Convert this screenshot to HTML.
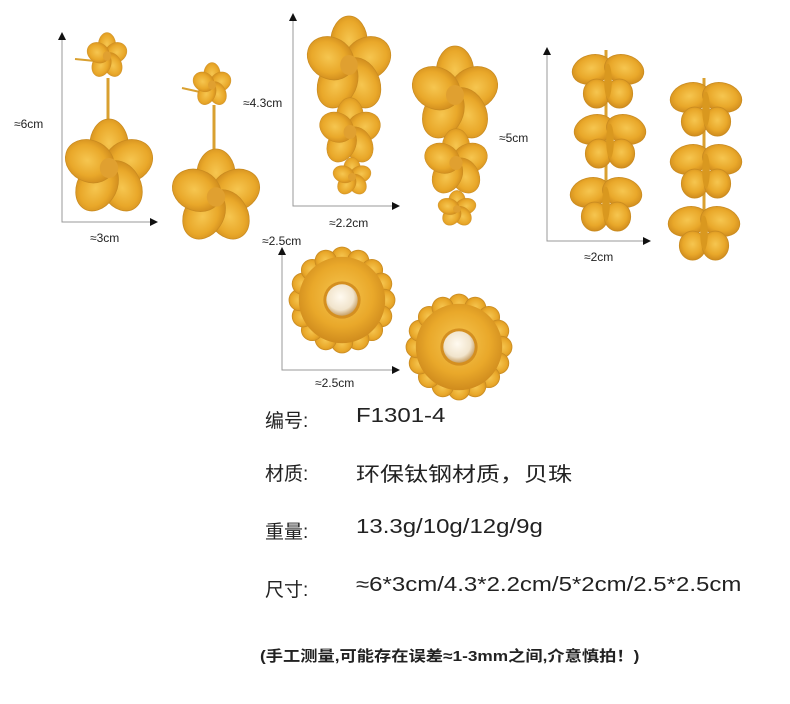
<!DOCTYPE html>
<html><head><meta charset="utf-8"><style>
html,body{margin:0;padding:0;background:#fff;}
body{width:790px;height:704px;position:relative;overflow:hidden;font-family:"Liberation Sans","Noto Sans CJK SC",sans-serif;color:#222;}
.t{position:absolute;white-space:nowrap;}
.v{font-size:20px;transform:scaleX(1.2);transform-origin:0 0;}
.l{font-size:19px;}
</style></head><body>
<svg width="790" height="704" style="position:absolute;left:0;top:0">
<defs>
<radialGradient id="g" cx="50%" cy="45%" r="60%">
<stop offset="0" stop-color="#f6c650"/><stop offset="0.6" stop-color="#e9a82a"/><stop offset="1" stop-color="#c9841a"/>
</radialGradient>
<radialGradient id="pearl" cx="45%" cy="40%" r="60%">
<stop offset="0" stop-color="#fffaf0"/><stop offset="0.7" stop-color="#f1e4cc"/><stop offset="1" stop-color="#c9a36a"/>
</radialGradient>
<symbol id="f5" viewBox="-50 -50 100 100" preserveAspectRatio="none">
<g fill="url(#g)" stroke="#c98b20" stroke-width="0.8">
<ellipse cx="0" cy="-22" rx="21" ry="27"/>
<ellipse cx="0" cy="-22" rx="21" ry="27" transform="rotate(72)"/>
<ellipse cx="0" cy="-22" rx="21" ry="27" transform="rotate(144)"/>
<ellipse cx="0" cy="-22" rx="21" ry="27" transform="rotate(216)"/>
<ellipse cx="0" cy="-22" rx="21" ry="27" transform="rotate(288)"/>
</g>
<circle cx="0" cy="0" r="10" fill="#e0a030"/>
</symbol>
<symbol id="bf" viewBox="-40 -30 80 60" preserveAspectRatio="none">
<g fill="url(#g)" stroke="#c98b20" stroke-width="0.8">
<ellipse cx="-17" cy="-12" rx="21" ry="15" transform="rotate(-15 -17 -12)"/>
<ellipse cx="17" cy="-12" rx="21" ry="15" transform="rotate(15 17 -12)"/>
<ellipse cx="-12" cy="13" rx="14" ry="15"/>
<ellipse cx="12" cy="13" rx="14" ry="15"/>
</g>
<ellipse cx="0" cy="0" rx="4" ry="18" fill="#d9981f"/>
</symbol>
<symbol id="daisy" viewBox="-55 -55 110 110">
<g fill="url(#g)" stroke="#c98b20" stroke-width="0.8">
<circle cx="0" cy="-43" r="11"/><circle cx="0" cy="-43" r="11" transform="rotate(22.5)"/>
<circle cx="0" cy="-43" r="11" transform="rotate(45)"/><circle cx="0" cy="-43" r="11" transform="rotate(67.5)"/>
<circle cx="0" cy="-43" r="11" transform="rotate(90)"/><circle cx="0" cy="-43" r="11" transform="rotate(112.5)"/>
<circle cx="0" cy="-43" r="11" transform="rotate(135)"/><circle cx="0" cy="-43" r="11" transform="rotate(157.5)"/>
<circle cx="0" cy="-43" r="11" transform="rotate(180)"/><circle cx="0" cy="-43" r="11" transform="rotate(202.5)"/>
<circle cx="0" cy="-43" r="11" transform="rotate(225)"/><circle cx="0" cy="-43" r="11" transform="rotate(247.5)"/>
<circle cx="0" cy="-43" r="11" transform="rotate(270)"/><circle cx="0" cy="-43" r="11" transform="rotate(292.5)"/>
<circle cx="0" cy="-43" r="11" transform="rotate(315)"/><circle cx="0" cy="-43" r="11" transform="rotate(337.5)"/>
<circle cx="0" cy="0" r="44" stroke="none"/>
</g>
<circle cx="0" cy="0" r="19" fill="#d48f20"/>
<circle cx="0" cy="0" r="16" fill="url(#pearl)"/>
</symbol>
</defs>
<g stroke="#999" stroke-width="1" fill="none">
<path d="M62 37V222H150"/><path d="M293 18V206H392"/><path d="M547 52V241H643"/><path d="M282 252V370H392"/>
</g>
<g fill="#111">
<path d="M58 40L62 32L66 40Z"/><path d="M150 218L158 222L150 226Z"/>
<path d="M289 21L293 13L297 21Z"/><path d="M392 202L400 206L392 210Z"/>
<path d="M543 55L547 47L551 55Z"/><path d="M643 237L651 241L643 245Z"/>
<path d="M278 255L282 247L286 255Z"/><path d="M392 366L400 370L392 374Z"/>
</g>
<line x1="75" y1="59" x2="95" y2="61" stroke="#d9a030" stroke-width="2"/>
<line x1="182" y1="88" x2="200" y2="92" stroke="#d9a030" stroke-width="2"/>
<use href="#f5" x="86" y="32" width="42" height="48"/>
<line x1="108" y1="78" x2="108" y2="125" stroke="#d9a030" stroke-width="3"/>
<use href="#f5" x="63" y="118" width="92" height="100"/>
<use href="#f5" x="192" y="62" width="40" height="46"/>
<line x1="214" y1="105" x2="214" y2="155" stroke="#d9a030" stroke-width="3"/>
<use href="#f5" x="170" y="148" width="92" height="98"/>
<use href="#f5" x="305" y="15" width="88" height="100"/>
<use href="#f5" x="318" y="97" width="64" height="70"/>
<use href="#f5" x="332" y="157" width="40" height="40"/>
<use href="#f5" x="410" y="45" width="90" height="100"/>
<use href="#f5" x="423" y="128" width="66" height="70"/>
<use href="#f5" x="437" y="190" width="40" height="38"/>
<line x1="606" y1="50" x2="606" y2="205" stroke="#d9a030" stroke-width="3"/>
<line x1="704" y1="78" x2="704" y2="233" stroke="#d9a030" stroke-width="3"/>
<use href="#bf" x="570" y="52" width="76" height="58"/>
<use href="#bf" x="572" y="112" width="76" height="58"/>
<use href="#bf" x="568" y="175" width="76" height="58"/>
<use href="#bf" x="668" y="80" width="76" height="58"/>
<use href="#bf" x="668" y="142" width="76" height="58"/>
<use href="#bf" x="666" y="204" width="76" height="58"/>
<use href="#daisy" x="288" y="246" width="108" height="108"/>
<use href="#daisy" x="405" y="293" width="108" height="108"/>
</svg>
<div class="t" style="left:14px;top:117px;font-size:12px">≈6cm</div>
<div class="t" style="left:90px;top:231px;font-size:12px">≈3cm</div>
<div class="t" style="left:243px;top:96px;font-size:12px">≈4.3cm</div>
<div class="t" style="left:329px;top:216px;font-size:12px">≈2.2cm</div>
<div class="t" style="left:499px;top:131px;font-size:12px">≈5cm</div>
<div class="t" style="left:584px;top:250px;font-size:12px">≈2cm</div>
<div class="t" style="left:262px;top:234px;font-size:12px">≈2.5cm</div>
<div class="t" style="left:315px;top:376px;font-size:12px">≈2.5cm</div>
<div class="t l" style="left:265px;top:406px;">编号:</div>
<div class="t v" style="left:356px;top:405px;">F1301-4</div>
<div class="t l" style="left:265px;top:459px;">材质:</div>
<div class="t v" style="left:356px;top:458px;">环保钛钢材质，贝珠</div>
<div class="t l" style="left:265px;top:517px;">重量:</div>
<div class="t v" style="left:356px;top:516px;">13.3g/10g/12g/9g</div>
<div class="t l" style="left:265px;top:575px;">尺寸:</div>
<div class="t v" style="left:356px;top:574px;">≈6*3cm/4.3*2.2cm/5*2cm/2.5*2.5cm</div>
<div class="t" style="left:260px;top:645px;font-size:15px;font-weight:bold;transform:scaleX(1.15);transform-origin:0 0">(手工测量,可能存在误差≈1-3mm之间,介意慎拍！)</div>
</body></html>
